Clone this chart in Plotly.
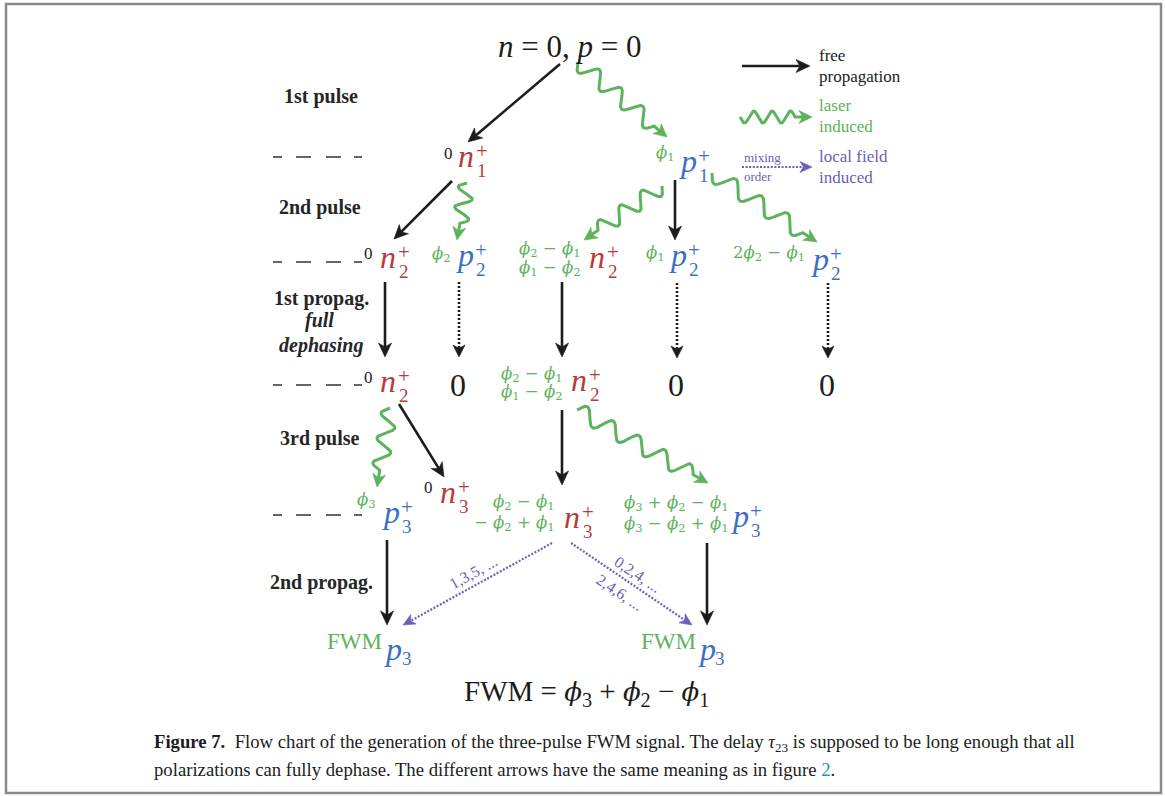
import math
import numpy as np
import plotly.graph_objects as go

W, H = 1165, 796
SERIF = "Liberation Serif"
MATH = "DejaVu Serif"
INK = "#1c1c1c"
LABEL_INK = "#262626"
GREEN = "#5db35d"
RED = "#b73b3b"
BLUE = "#3c6fc3"
PURPLE = "#6c5fb4"
FRAME = "#8a8a8a"
LINK = "#1a93d6"
PHI = "<span style='font-family:DejaVu Serif;font-size:26px'><i>ϕ</i></span>"

# ---------------- text content ----------------
top_label = "<i>n</i> = 0, <i>p</i> = 0"
stage_labels = ["1st pulse", "2nd pulse", "1st propag.", "full", "dephasing", "3rd pulse", "2nd propag."]
stage_italic = [False, False, False, True, True, False, False]

node_letter = ["n", "p", "n", "p", "n", "p", "p", "n", "n", "p", "n", "n", "p"]
node_sub = ["1", "1", "2", "2", "2", "2", "2", "2", "2", "3", "3", "3", "3"]
node_prefix = [["0"], ["ϕ1"], ["0"], ["ϕ2"], ["ϕ2−ϕ1", "ϕ1−ϕ2"], ["ϕ1"], ["2ϕ2−ϕ1"],
               ["0"], ["ϕ2−ϕ1", "ϕ1−ϕ2"], ["ϕ3"], ["0"], ["ϕ2−ϕ1", "−ϕ2+ϕ1"],
               ["ϕ3+ϕ2−ϕ1", "ϕ3−ϕ2+ϕ1"]]
zero_labels = ["0", "0", "0"]
output_labels = ["FWM", "FWM"]
equation = "FWM = %s<sub>3</sub> + %s<sub>2</sub> − %s<sub>1</sub>" % (PHI, PHI, PHI)
mixing_labels = ["1,3,5, ...", "0,2,4, ...", "2,4,6, ..."]
legend_labels = [["free", "propagation"], ["laser", "induced"], ["local field", "induced"]]
legend_small = ["mixing", "order"]
caption_1 = ("<b>Figure 7.</b>  Flow chart of the generation of the three-pulse FWM signal. "
             "The delay <i>τ</i><sub>23</sub> is supposed to be long enough that all")
caption_2 = ("polarizations can fully dephase. The different arrows have the same meaning as in figure "
             "<span style='color:%s'>2</span>." % LINK)

# ---------------- layout positions (pixels) ----------------
stage_xy = [(321, 96), (320, 207), (321, 298), (319, 320), (321, 345), (320, 438), (321, 582)]
level_y = [157, 262, 385, 515]
node_pos = [(466, 167), (688, 172), (388, 268), (465, 266), (597, 268), (678, 266), (820, 270),
            (388, 392), (579, 391), (391, 523), (448, 503), (572, 528), (740, 527)]
prefix_pos = [(455, [153]), (677, [153]), (375, [253]), (453, [254]), (583, [249, 268]),
              (667, [253]), (807, [253]), (375, [377]), (565, [374, 392]), (378, [500]),
              (435, [487]), (557, [502, 523]), (730, [503, 524])]
zero_xy = [(458, 385), (676, 385), (827, 385)]
output_pos = [(354, 641, 393, 660, 407), (668, 641, 707, 660, 720)]
solid_arrows = [((560, 64), (468, 142)), ((452, 181), (394, 239)), ((675, 180), (675, 240)),
                ((385, 282), (385, 357)), ((562, 282), (562, 357)), ((399, 404), (444, 477)),
                ((562, 410), (562, 485)), ((387, 540), (387, 625)), ((707, 543), (707, 625))]
dotted_arrows = [((459, 282), (459, 357)), ((677, 283), (677, 358)), ((828, 283), (828, 358))]
wavy_arrows = [((578, 62), (667, 137), 28, 1), ((467, 183), (457, 240), 22, 1),
               ((662, 186), (584, 240), 28, -1), ((712, 173), (817, 242), 30, 1),
               ((390, 408), (377, 487), 28, 1), ((577, 410), (708, 483), 30, -1)]
mixing_arrows = [((552, 543), (403, 625)), ((571, 543), (692, 625))]
mixing_label_pos = [(473, 572, -29), (638, 574, 34), (620, 592, 34)]

fig = go.Figure()
shapes = []
ann = []


def text(x, y, s, size, color, xa="center", ya="middle", angle=0, family=SERIF):
    ann.append(dict(x=x, y=y, xref="x", yref="y", text=s, showarrow=False,
                    font=dict(family=family, size=size, color=color),
                    xanchor=xa, yanchor=ya, textangle=angle))


def base_text(x, base, s, size, color, xa="center"):
    text(x, base - 0.34 * size, s, size, color, xa=xa)


def line(xs, ys, color, width, dash="solid"):
    fig.add_trace(go.Scatter(x=list(xs), y=list(ys), mode="lines",
                             line=dict(color=color, width=width, dash=dash),
                             hoverinfo="skip", showlegend=False))


def head(x1, y1, ux, uy, L, Wd, color):
    nx, ny = -uy, ux
    bx, by = x1 - L * ux, y1 - L * uy
    cx, cy = x1 - 0.72 * L * ux, y1 - 0.72 * L * uy
    path = "M {:.2f},{:.2f} L {:.2f},{:.2f} L {:.2f},{:.2f} L {:.2f},{:.2f} Z".format(
        x1, y1, bx + Wd * nx, by + Wd * ny, cx, cy, bx - Wd * nx, by - Wd * ny)
    shapes.append(dict(type="path", path=path, xref="x", yref="y", fillcolor=color,
                       line=dict(color=color, width=0.6), layer="above"))


def straight(p0, p1, color, width, dash, L, Wd):
    (x0, y0), (x1, y1) = p0, p1
    d = math.hypot(x1 - x0, y1 - y0)
    ux, uy = (x1 - x0) / d, (y1 - y0) / d
    line([x0, x1 - 0.7 * L * ux], [y0, y1 - 0.7 * L * uy], color, width, dash)
    head(x1, y1, ux, uy, L, Wd, color)


def wavy(p0, p1, period, sign, color=GREEN, width=3, amp=8, L=13, Wd=6.5):
    (x0, y0), (x1, y1) = p0, p1
    d = math.hypot(x1 - x0, y1 - y0)
    ux, uy = (x1 - x0) / d, (y1 - y0) / d
    nx, ny = -uy, ux
    wl = d - L - 4
    k = max(1, round(2 * wl / period))
    per = 2 * wl / k
    t = np.linspace(0, wl, 240)
    off = sign * amp * np.sin(2 * np.pi * t / per)
    xs = list(x0 + ux * t + nx * off) + [x1 - 0.7 * L * ux]
    ys = list(y0 + uy * t + ny * off) + [y1 - 0.7 * L * uy]
    line(xs, ys, color, width)
    head(x1, y1, ux, uy, L, Wd, color)


def phase(s):
    out = ""
    i = 0
    while i < len(s):
        c = s[i]
        if c == "ϕ":
            out += "<i>ϕ</i><sub>%s</sub>" % s[i + 1]
            i += 2
            continue
        if c in "−+":
            out += " %s " % c if out else "%s " % c
        else:
            out += c
        i += 1
    return out


# frame
shapes.append(dict(type="rect", xref="x", yref="y", x0=6, y0=4, x1=1161, y1=793,
                   line=dict(color=FRAME, width=2.5), fillcolor="rgba(0,0,0,0)"))

# stage labels and level dashes
for lab, it, (x, y) in zip(stage_labels, stage_italic, stage_xy):
    s = "<b><i>%s</i></b>" % lab if it else "<b>%s</b>" % lab
    text(x, y, s, 20, LABEL_INK)
for y in level_y:
    line([273, 362], [y, y], "#333333", 1.6, "9px,14px,15px,15px,15px,13px,9px")

# top
text(569, 46, top_label, 31, INK)

# nodes
for letter, sub, pre, (cx, base), (prx, prys) in zip(node_letter, node_sub, node_prefix,
                                                      node_pos, prefix_pos):
    col = RED if letter == "n" else BLUE
    base_text(cx, base, "<i>%s</i>" % letter, 32, col)
    base_text(cx + 16, base - 9, "+", 21, col)
    base_text(cx + 16, base + 10, sub, 19, col)
    if pre == ["0"]:
        text(prx, prys[0], "0", 17, INK, xa="right")
    else:
        for s, yy in zip(pre, prys):
            text(prx, yy, phase(s), 16.5, GREEN, xa="right", family=MATH)

for z, (x, y) in zip(zero_labels, zero_xy):
    text(x, y, z, 32, INK)

for lab, (fx, fy, px, pb, sx) in zip(output_labels, output_pos):
    text(fx, fy, lab, 23, GREEN)
    base_text(px, pb, "<i>p</i>", 32, BLUE)
    base_text(sx, pb + 5, "3", 19, BLUE)

text(586, 693, equation, 29, INK)

# arrows
for p0, p1 in solid_arrows:
    straight(p0, p1, INK, 2.6, "solid", 14, 6.5)
for p0, p1 in dotted_arrows:
    straight(p0, p1, INK, 2.6, "2px,2px", 12, 6)
for p0, p1, per, sg in wavy_arrows:
    wavy(p0, p1, per, sg)
for p0, p1 in mixing_arrows:
    straight(p0, p1, PURPLE, 2.2, "2px,1.6px", 12, 5.5)
for lab, (x, y, a) in zip(mixing_labels, mixing_label_pos):
    text(x, y, lab, 16, PURPLE, angle=a)

# legend
straight((742, 66), (810, 66), INK, 2.6, "solid", 14, 6.5)
wavy((740, 117), (812, 117), 18, 1, amp=6)
straight((742, 167), (812, 167), PURPLE, 2.2, "2px,1.6px", 12, 5.5)
for (l1, l2), y1, col in zip(legend_labels, [55, 105, 156], [INK, GREEN, PURPLE]):
    text(817, y1, l1, 17, col, xa="left")
    text(817, y1 + 21, l2, 17, col, xa="left")
text(742, 157, legend_small[0], 13, PURPLE, xa="left")
text(742, 176, legend_small[1], 13, PURPLE, xa="left")

# caption
text(152, 743, caption_1, 18.7, INK, xa="left")
text(152, 769, caption_2, 18.7, INK, xa="left")

fig.update_layout(
    width=W, height=H, autosize=False,
    margin=dict(l=0, r=0, t=0, b=0, pad=0),
    paper_bgcolor="white", plot_bgcolor="white",
    xaxis=dict(range=[0, W], visible=False, fixedrange=True),
    yaxis=dict(range=[H, 0], visible=False, fixedrange=True),
    shapes=shapes, annotations=ann, showlegend=False,
)
fig.write_html("out.html", config={"displayModeBar": False, "staticPlot": True},
               post_script="document.body.style.margin='0';document.body.style.overflow='hidden';")
